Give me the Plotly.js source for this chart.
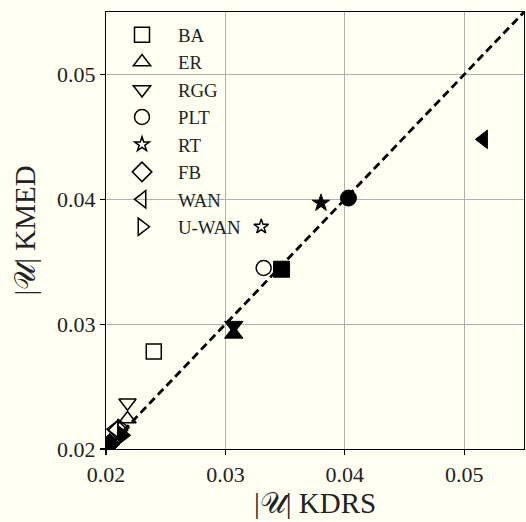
<!DOCTYPE html>
<html>
<head>
<meta charset="utf-8">
<script src="https://cdn.plot.ly/plotly-3.0.1.min.js"></script>
<style>
html,body{margin:0;padding:0;background:#fffff2;}
#chart{width:526px;height:522px;}
</style>
</head>
<body>
<div id="chart"></div>
<script>
// ---- data ----
const networks = ['BA', 'ER', 'RGG', 'PLT', 'RT', 'FB', 'WAN', 'U-WAN'];
const openSymbols = ['square-open', 'triangle-up-open', 'triangle-down-open', 'circle-open', 'star-open', 'diamond-open', 'triangle-left-open', 'triangle-right-open'];
const filledSymbols = ['square', 'triangle-up', 'triangle-down', 'circle', 'star', 'diamond', 'triangle-left', 'triangle-right'];
const openKDRS = [0.0240, 0.0218, 0.0218, 0.0332, 0.0330, 0.0210, 0.0207, 0.0213];
const openKMED = [0.0278, 0.0224, 0.0237, 0.0345, 0.0378, 0.0215, 0.0216, 0.0217];
const filledKDRS = [0.0347, 0.0307, 0.0307, 0.0403, 0.0380, 0.0203, 0.0516, 0.0214];
const filledKMED = [0.0344, 0.0292, 0.0299, 0.0401, 0.0397, 0.0204, 0.0448, 0.0211];
const diagRange = [0.02, 0.055];
const tickVals = [0.02, 0.03, 0.04, 0.05];
const tickText = ['0.02', '0.03', '0.04', '0.05'];

const FONT = 'Liberation Serif, DejaVu Serif, serif';
const openSizes = {'star-open': 11};
const filledSizes = {'star': 13};
const traces = [];
traces.push({
  x: diagRange, y: diagRange, mode: 'lines', showlegend: false, hoverinfo: 'skip',
  line: {color: 'black', width: 2.8, dash: '8px,4.5px'}
});
networks.forEach((n, i) => {
  traces.push({
    x: [openKDRS[i]], y: [openKMED[i]], mode: 'markers', name: n,
    marker: {symbol: openSymbols[i], size: openSizes[openSymbols[i]] || 15, color: 'black', line: {color: 'black', width: 1.5}}
  });
});
networks.forEach((n, i) => {
  traces.push({
    x: [filledKDRS[i]], y: [filledKMED[i]], mode: 'markers', name: n, showlegend: false,
    marker: {symbol: filledSymbols[i], size: filledSizes[filledSymbols[i]] || 16, color: 'black', line: {color: 'black', width: 1}}
  });
});

const axisCommon = {
  range: diagRange, tickvals: tickVals, ticktext: tickText,
  showgrid: true, gridcolor: '#b0b0b0', gridwidth: 1,
  showline: true, linecolor: 'black', linewidth: 1.2, mirror: true,
  ticks: 'outside', ticklen: 5, tickcolor: 'black', tickwidth: 1.2,
  zeroline: false, tickfont: {family: FONT, size: 22, color: '#222'}
};

const layout = {
  width: 526, height: 522,
  paper_bgcolor: '#fffff2', plot_bgcolor: '#fffff2',
  margin: {l: 106, r: 2, t: 12, b: 73},
  font: {family: FONT, color: '#222'},
  xaxis: Object.assign({}, axisCommon, {
    title: {text: '|𝒰| KDRS', font: {family: FONT, size: 29, color: '#222'}, standoff: 2}
  }),
  yaxis: Object.assign({}, axisCommon, {
    title: {text: '|𝒰| KMED', font: {family: FONT, size: 29, color: '#222'}, standoff: 12}
  }),
  legend: {
    x: 0, y: 0.991, xanchor: 'left', yanchor: 'top', bgcolor: 'rgba(0,0,0,0)', borderwidth: 0,
    font: {family: FONT, size: 18.8, color: '#222'}, itemwidth: 62, tracegroupgap: 0
  },
  showlegend: true
};

Plotly.newPlot('chart', traces, layout, {displayModeBar: false, staticPlot: true});
</script>
</body>
</html>
